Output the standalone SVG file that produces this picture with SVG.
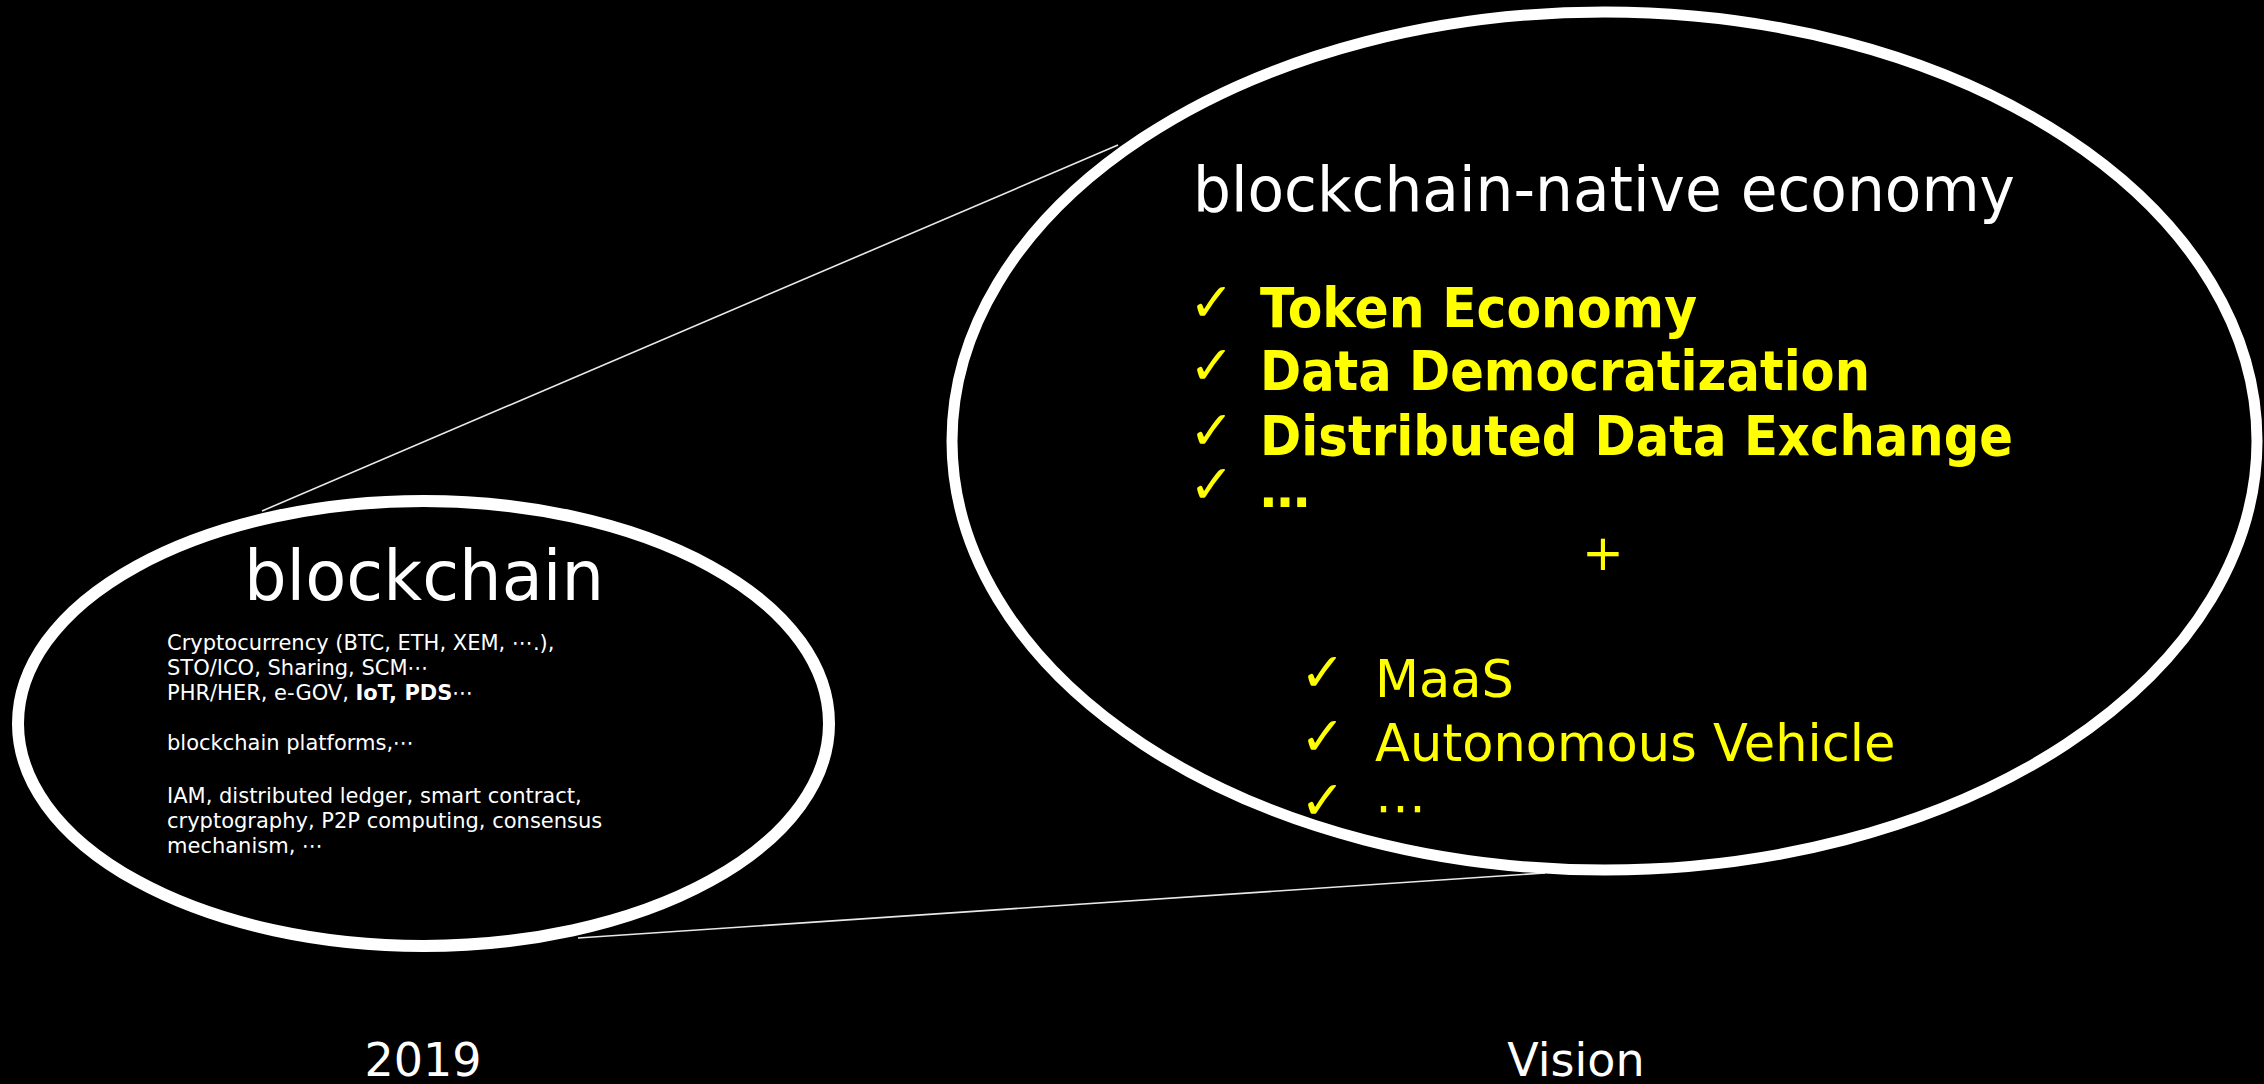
<svg xmlns="http://www.w3.org/2000/svg" width="2264" height="1084" viewBox="0 0 2264 1084">
  <style>
    .ring { fill: #000; stroke: #fff; }
    .link { stroke: #e8e8e8; stroke-width: 1.6; fill: none; }
    .w { fill: #fff; font-family: "DejaVu Sans", Verdana, sans-serif; }
    .y { fill: #ffff00; font-family: "DejaVu Sans", Verdana, sans-serif; }
    .b { font-weight: bold; }
  </style>
  <rect width="2264" height="1084" fill="#000"/>

  <!-- zoom lines joining the two ellipses -->
  <g id="connectors">
    <line class="link" x1="262" y1="511" x2="1118" y2="145"/>
    <line class="link" x1="578" y1="938" x2="1545" y2="873"/>
  </g>

  <!-- present-day blockchain -->
  <g id="node-blockchain">
    <ellipse class="ring" cx="423.5" cy="723.5" rx="405.5" ry="222.5" stroke-width="12"/>
    <text class="w" x="244" y="600" font-size="70" textLength="360" lengthAdjust="spacingAndGlyphs">blockchain</text>
    <g class="w" font-size="21">
      <text x="167" y="650">Cryptocurrency (BTC, ETH, XEM, ⋯.),</text>
      <text x="167" y="675">STO/ICO, Sharing, SCM⋯</text>
      <text x="167" y="700">PHR/HER, e-GOV, <tspan class="b">IoT, PDS</tspan>⋯</text>
      <text x="167" y="750">blockchain platforms,⋯</text>
      <text x="167" y="803">IAM, distributed ledger, smart contract,</text>
      <text x="167" y="828">cryptography, P2P computing, consensus</text>
      <text x="167" y="853">mechanism, ⋯</text>
    </g>
  </g>

  <!-- future vision -->
  <g id="node-vision">
    <ellipse class="ring" cx="1604.5" cy="441" rx="652.5" ry="429" stroke-width="11"/>
    <text class="w" x="1193" y="211" font-size="62" textLength="822" lengthAdjust="spacingAndGlyphs">blockchain-native economy</text>
    <g class="y" font-size="54">
      <text x="1189" y="321">✓</text>
      <text x="1189" y="384">✓</text>
      <text x="1189" y="449">✓</text>
      <text x="1189" y="503">✓</text>
    </g>
    <g class="y b" font-size="55">
      <text x="1260" y="327" textLength="437" lengthAdjust="spacingAndGlyphs">Token Economy</text>
      <text x="1260" y="390" textLength="610" lengthAdjust="spacingAndGlyphs">Data Democratization</text>
      <text x="1260" y="455" textLength="753" lengthAdjust="spacingAndGlyphs">Distributed Data Exchange</text>
      <text x="1260" y="507" font-size="50">…</text>
    </g>
    <text class="y" x="1603" y="570" font-size="50" text-anchor="middle">+</text>
    <g class="y" font-size="54">
      <text x="1300" y="691">✓</text>
      <text x="1300" y="755">✓</text>
      <text x="1300" y="819">✓</text>
    </g>
    <g class="y" font-size="51">
      <text x="1375" y="697">MaaS</text>
      <text x="1375" y="761">Autonomous Vehicle</text>
      <text x="1375" y="825">⋯</text>
    </g>
  </g>

  <!-- time labels -->
  <g id="labels">
    <text class="w" x="423" y="1076" font-size="46" text-anchor="middle">2019</text>
    <text class="w" x="1576" y="1076" font-size="46" text-anchor="middle">Vision</text>
  </g>
</svg>
